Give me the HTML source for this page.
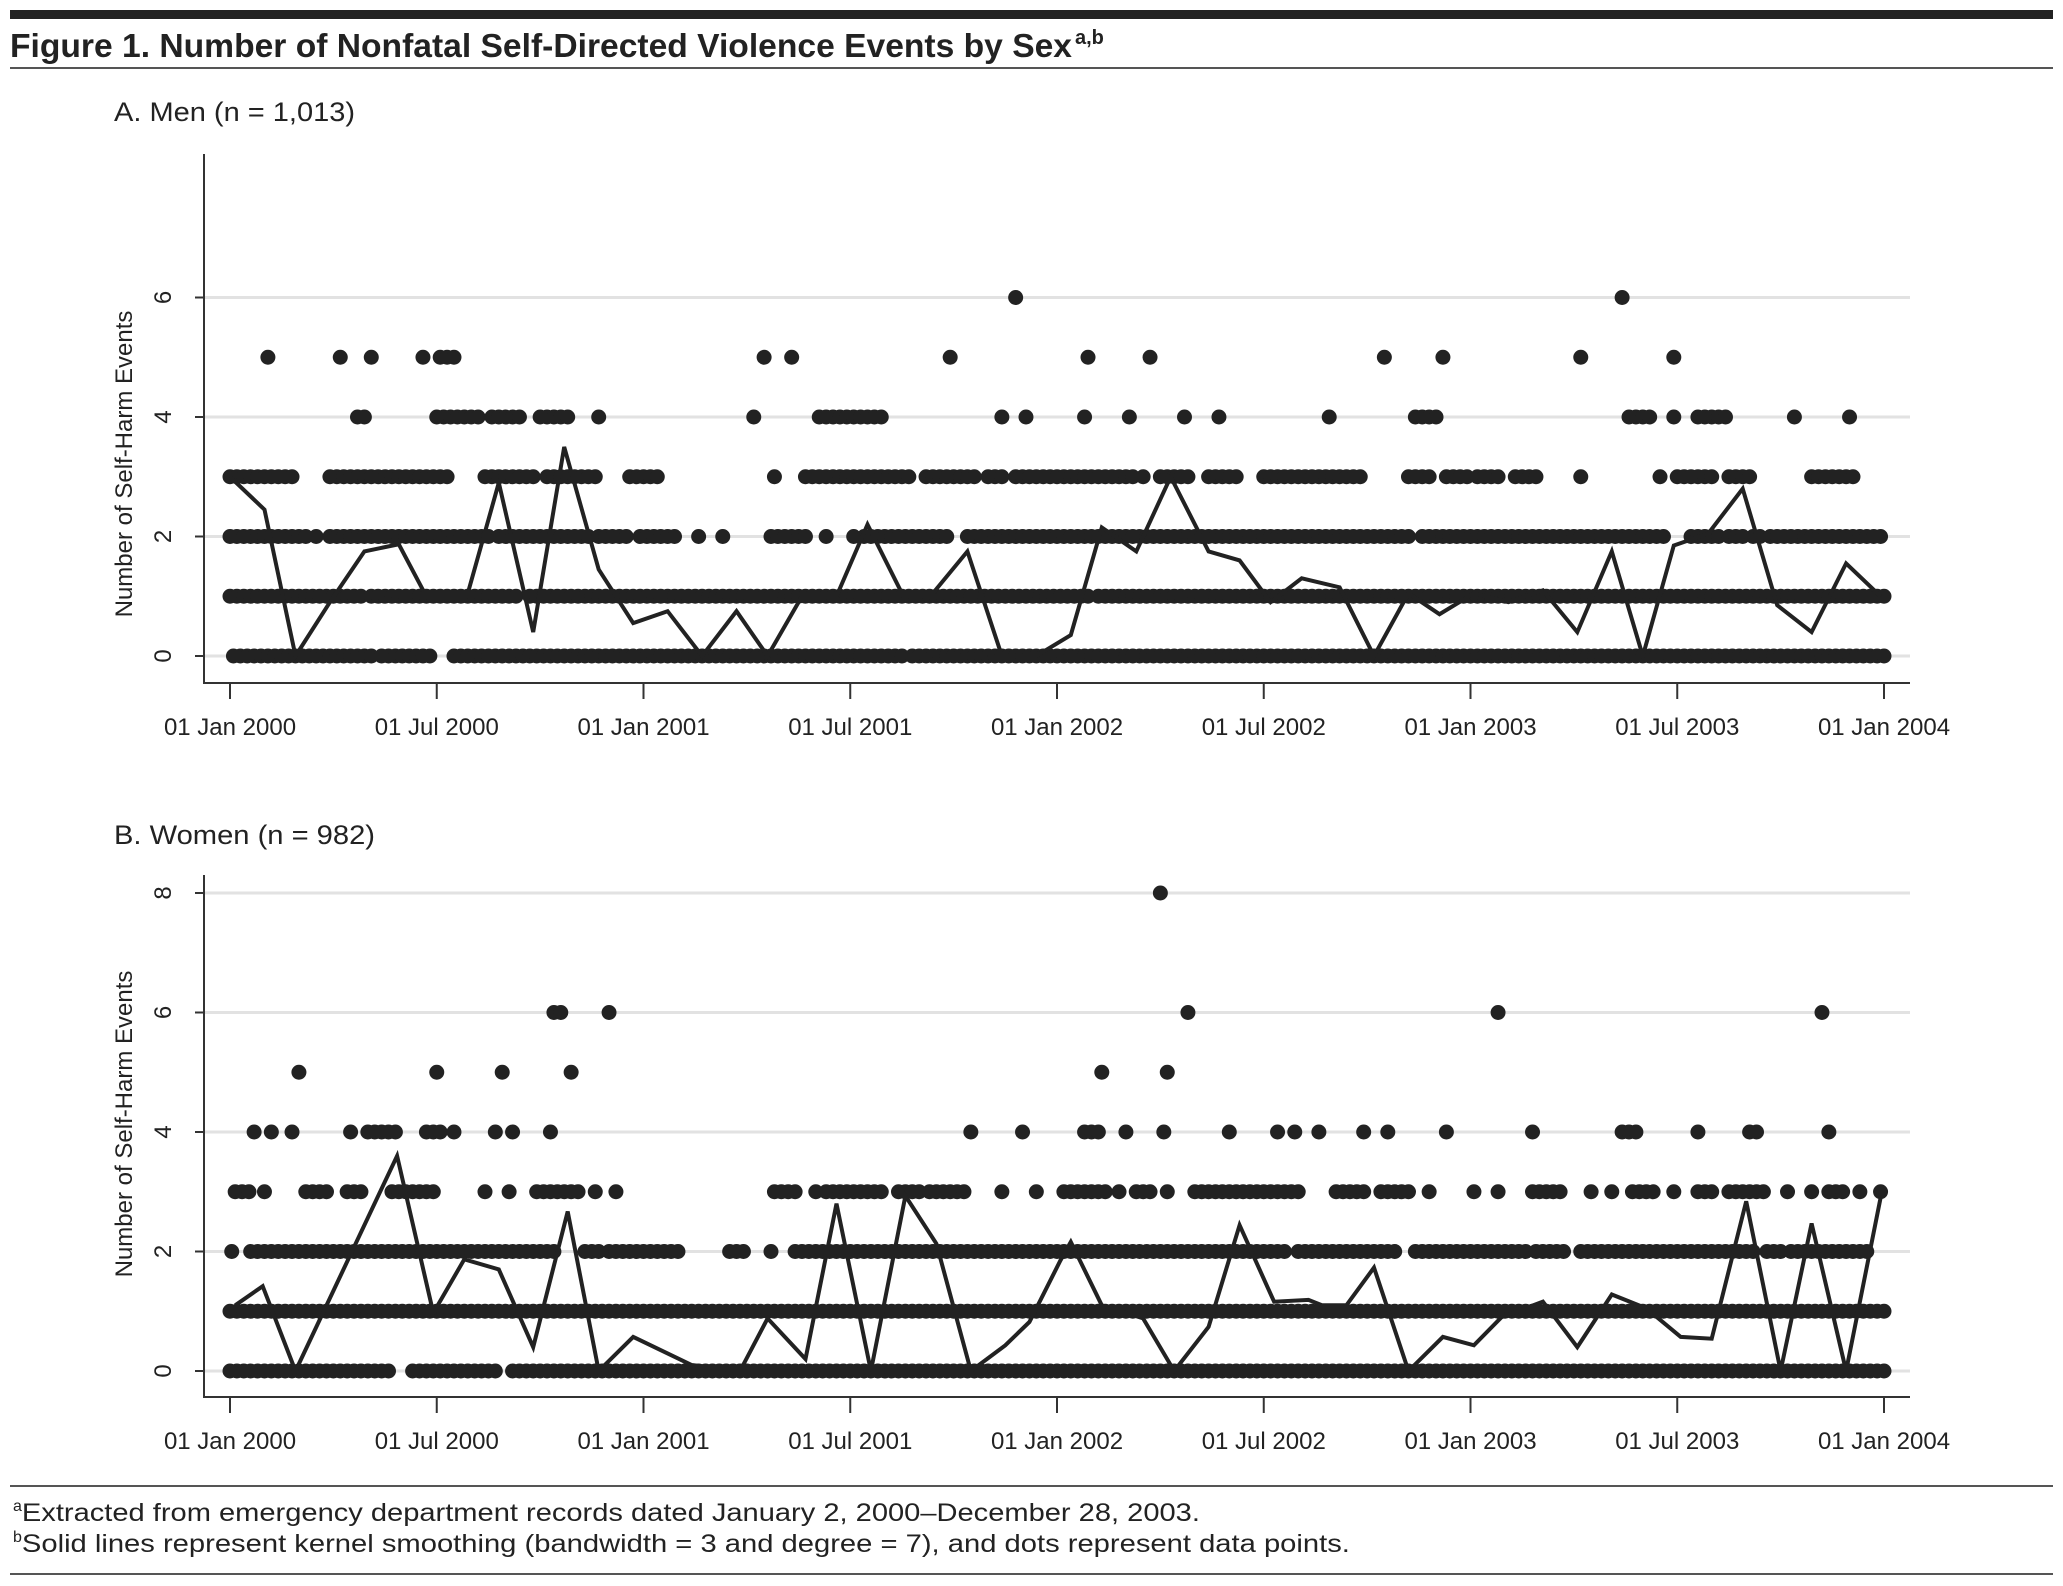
<!DOCTYPE html>
<html><head><meta charset="utf-8"><style>
html,body{margin:0;padding:0;background:#fff;}
svg{display:block;font-family:"Liberation Sans",sans-serif;}
</style></head><body>
<svg id="fig" width="2063" height="1586" viewBox="0 0 2063 1586" xmlns="http://www.w3.org/2000/svg">
<rect x="10" y="10" width="2043" height="9" fill="#222"/>
<text x="10" y="57" font-size="33" font-weight="bold" fill="#222" textLength="1062" lengthAdjust="spacingAndGlyphs">Figure 1. Number of Nonfatal Self-Directed Violence Events by Sex</text>
<text x="1075" y="44" font-size="20" font-weight="bold" fill="#222">a,b</text>
<rect x="10" y="67" width="2043" height="2" fill="#555"/>
<text x="114" y="121" font-size="27" fill="#222" textLength="241" lengthAdjust="spacingAndGlyphs">A. Men (n = 1,013)</text>
<text x="114" y="844" font-size="27" fill="#222" textLength="261" lengthAdjust="spacingAndGlyphs">B. Women (n = 982)</text>
<rect x="10" y="1485" width="2043" height="2" fill="#555"/>
<text x="13" y="1521" font-size="25" fill="#222"><tspan font-size="16" dy="-10">a</tspan><tspan dy="10" textLength="1178" lengthAdjust="spacingAndGlyphs">Extracted from emergency department records dated January 2, 2000–December 28, 2003.</tspan></text>
<text x="13" y="1552" font-size="25" fill="#222"><tspan font-size="16" dy="-10">b</tspan><tspan dy="10" textLength="1328" lengthAdjust="spacingAndGlyphs">Solid lines represent kernel smoothing (bandwidth = 3 and degree = 7), and dots represent data points.</tspan></text>
<rect x="10" y="1573" width="2043" height="2" fill="#555"/>
<g id="panelA"></g>
<g id="panelB"></g>
</svg>
<script>
// x in months since 01 Jan 2000; runs [start,end] at each count level
const tickLabels = ["01 Jan 2000","01 Jul 2000","01 Jan 2001","01 Jul 2001","01 Jan 2002","01 Jul 2002","01 Jan 2003","01 Jul 2003","01 Jan 2004"];
const tickMonths = [0,6,12,18,24,30,36,42,48];
const menYTicks = [0,2,4,6];
const womenYTicks = [0,2,4,6,8];

const menL0 = [[0.1,4.2],[4.4,5.9],[6.5,16.7],[16.9,19.5],[19.8,48]];
const menL1 = [[0,3.9],[4.1,8.4],[8.7,25.0],[25.2,48]];
const menL2 = [[0,2.2],[2.5,2.5],[2.9,7.6],[7.8,9.4],[9.6,10.4],[10.7,11.6],[11.9,13.0],[13.6,13.6],[14.3,14.3],[15.7,16.7],[17.3,17.3],[18.1,18.1],[18.4,20.8],[21.4,24.2],[24.4,29.8],[30.0,31.4],[31.6,34.2],[34.6,41.7],[42.4,43.2],[43.5,44.0],[44.2,44.5],[44.7,47.9]];
const menL3 = [[0,1.8],[2.9,6.3],[7.4,8.8],[9.2,10.7],[11.6,12.5],[15.8,15.8],[16.7,19.8],[20.2,21.4],[21.6,21.6],[22.0,22.5],[22.8,26.2],[26.5,26.5],[27.0,27.8],[28.4,29.2],[30.0,32.8],[34.2,34.9],[35.3,36.0],[36.2,36.9],[37.3,38.0],[39.2,39.2],[41.5,41.5],[42.0,43.0],[43.5,44.1],[45.9,47.2]];
const menL4 = [[3.7,4.0],[6.0,7.3],[7.6,8.4],[9.0,9.9],[10.7,10.7],[15.2,15.2],[17.1,18.9],[22.4,22.4],[23.1,23.1],[24.8,24.8],[26.1,26.1],[27.7,27.7],[28.7,28.7],[31.9,31.9],[34.4,35.0],[40.6,41.3],[41.9,41.9],[42.6,43.5],[45.4,45.4],[47.0,47.0]];
const menL5 = [[1.1,1.1],[3.2,3.2],[4.1,4.1],[5.6,5.6],[6.1,6.5],[15.5,15.5],[16.3,16.3],[20.9,20.9],[24.9,24.9],[26.7,26.7],[33.5,33.5],[35.2,35.2],[39.2,39.2],[41.9,41.9]];
const menL6 = [[22.8,22.8],[40.4,40.4]];
const menLineMonths = [0,1.0,1.9,2.9,3.9,4.9,5.65,6.9,7.8,8.8,9.7,10.7,11.7,12.7,13.7,14.7,15.6,16.6,17.6,18.5,19.5,20.4,21.4,22.4,23.4,24.4,25.3,26.3,27.3,28.4,29.3,30.2,31.1,32.2,33.2,34.2,35.1,36.1,37.1,38.1,39.1,40.1,41.0,41.9,42.9,43.9,44.9,45.9,46.9,47.9];
const menLineValues = [3,2.45,0,0.9,1.75,1.87,1.05,1.05,2.9,0.4,3.5,1.45,0.55,0.75,0,0.75,0,1,1,2.2,1.05,1.05,1.75,0,0,0.35,2.15,1.75,3.0,1.75,1.6,0.9,1.3,1.15,0,1.05,0.7,1.05,0.9,1.1,0.4,1.75,0,1.85,2.05,2.8,0.85,0.4,1.55,1.0];

const womenL0 = [[0,4.6],[5.3,7.7],[8.2,48]];
const womenL1 = [[0,48]];
const womenL2 = [[0.05,0.05],[0.6,9.4],[10.3,10.7],[11.0,13.1],[14.5,15.0],[15.7,15.7],[16.4,27.6],[27.8,30.6],[31.0,33.8],[34.4,36.0],[36.2,37.7],[37.9,38.8],[39.2,44.3],[44.6,45.1],[45.3,47.6]];
const womenL3 = [[0.15,0.6],[1.0,1.0],[2.2,2.9],[3.4,3.9],[4.7,6.0],[7.4,7.4],[8.1,8.1],[8.9,10.2],[10.6,10.6],[11.2,11.2],[15.8,16.4],[17.0,17.0],[17.3,19.0],[19.4,20.0],[20.3,21.4],[22.4,22.4],[23.4,23.4],[24.2,24.6],[24.8,25.5],[25.8,25.8],[26.3,26.7],[27.2,27.2],[28.0,31.0],[32.1,33.0],[33.4,34.2],[34.8,34.8],[36.1,36.1],[36.8,36.8],[37.8,38.6],[39.5,39.5],[40.1,40.1],[40.7,41.4],[41.9,41.9],[42.6,43.1],[43.5,44.6],[45.2,45.2],[45.9,45.9],[46.4,46.9],[47.3,47.3],[47.9,47.9]];
const womenL4 = [[0.7,0.7],[1.2,1.2],[1.8,1.8],[3.5,3.5],[4.0,4.9],[5.7,6.1],[6.5,6.5],[7.7,7.7],[8.2,8.2],[9.3,9.3],[21.5,21.5],[23.0,23.0],[24.8,25.2],[26.0,26.0],[27.1,27.1],[29.0,29.0],[30.4,30.4],[30.9,30.9],[31.6,31.6],[32.9,32.9],[33.6,33.6],[35.3,35.3],[37.8,37.8],[40.4,40.8],[42.6,42.6],[44.1,44.3],[46.4,46.4]];
const womenL5 = [[2.0,2.0],[6.0,6.0],[7.9,7.9],[9.9,9.9],[25.3,25.3],[27.2,27.2]];
const womenL6 = [[9.4,9.6],[11.0,11.0],[27.8,27.8],[36.8,36.8],[46.2,46.2]];
const womenL8 = [[27.0,27.0]];
const womenLineMonths = [0.15,0.95,1.9,4.85,5.9,6.8,7.8,8.8,9.8,10.7,11.7,13.4,14.8,15.6,16.7,17.6,18.6,19.6,20.5,21.5,22.5,23.2,24.1,24.4,25.3,26.5,27.4,28.4,29.3,30.3,31.3,31.7,32.4,33.2,34.2,35.2,36.1,36.9,38.1,39.1,40.1,41.1,42.1,43.0,44.0,45.0,45.9,46.9,47.9];
const womenLineValues = [1.1,1.42,0,3.6,0.97,1.87,1.7,0.4,2.67,0,0.57,0.1,0,0.88,0.2,2.8,0,2.93,2.13,0,0.43,0.82,1.85,2.16,1.1,0.88,0,0.74,2.44,1.16,1.19,1.1,1.1,1.73,0,0.57,0.43,0.9,1.16,0.4,1.28,1.05,0.57,0.54,2.84,0,2.47,0,2.9];

const NS = "http://www.w3.org/2000/svg";
const X0 = 230, XW = 1654, PL = 204, PR = 1910;
function xScale(m){ return X0 + m / 48 * XW; }
function mk(tag, attrs, parent){ const e = document.createElementNS(NS, tag); for (const k in attrs) e.setAttribute(k, attrs[k]); parent.appendChild(e); return e; }

function drawPanel(g, cfg){
  const y = v => cfg.y0 - v * 59.75;
  // gridlines
  cfg.yTicks.forEach(v => {
    const gl = mk('line', {x1: PL, x2: PR, y1: y(v), y2: y(v), stroke: '#e2e2e2', 'stroke-width': 3}, g);
    
    
  });
  // axes
  const ya = mk('line', {x1: PL, x2: PL, y1: cfg.top, y2: cfg.axisY + 1, stroke: '#333', 'stroke-width': 2}, g);
  
  
  const xa = mk('line', {x1: PL, x2: PR, y1: cfg.axisY, y2: cfg.axisY, stroke: '#333', 'stroke-width': 2}, g);
  
  
  cfg.yTicks.forEach(v => {
    const t = mk('line', {x1: PL - 9, x2: PL, y1: y(v), y2: y(v), stroke: '#333', 'stroke-width': 2}, g);
    
    
    const lb = mk('text', {x: 0, y: 0, 'font-size': 24, fill: '#222', 'text-anchor': 'middle', transform: `translate(171,${y(v)}) rotate(-90)`}, g);
    
    
    lb.textContent = String(v);
  });
  tickMonths.forEach((m, i) => {
    const t = mk('line', {x1: xScale(m), x2: xScale(m), y1: cfg.axisY, y2: cfg.axisY + 16, stroke: '#333', 'stroke-width': 2}, g);
    
    
    const lb = mk('text', {x: xScale(m), y: cfg.axisY + 52, 'font-size': 24, fill: '#222', 'text-anchor': 'middle'}, g);
    
    
    lb.textContent = tickLabels[i];
  });
  const yt = mk('text', {x: 0, y: 0, 'font-size': 24, fill: '#222', 'text-anchor': 'middle', transform: `translate(132,${cfg.labelY}) rotate(-90)`}, g);
  
  
  yt.textContent = 'Number of Self-Harm Events';
  // dots
  const dg = mk('g', {fill: '#222'}, g);
  
  
  cfg.levels.forEach(([lvl, runs]) => {
    runs.forEach(([a, b]) => {
      for (let m = a; m <= b + 1e-6; m += 0.2) {
        const c = mk('ellipse', {cx: xScale(m), cy: y(lvl), rx: 7.5, ry: 7.5}, dg);
        
        
      }
    });
  });
  // smoothing line
  const pts = cfg.lineM.map((m, i) => xScale(m).toFixed(1) + ',' + y(cfg.lineV[i]).toFixed(1)).join(' ');
  const pl = mk('polyline', {points: pts, fill: 'none', stroke: '#222', 'stroke-width': 4, 'stroke-linejoin': 'miter'}, g);
  
  
}

drawPanel(document.getElementById('panelA'), {
  y0: 656, top: 154, axisY: 683, labelY: 464, yTicks: menYTicks,
  levels: [[0, menL0], [1, menL1], [2, menL2], [3, menL3], [4, menL4], [5, menL5], [6, menL6]],
  lineM: menLineMonths, lineV: menLineValues
});
drawPanel(document.getElementById('panelB'), {
  y0: 1371, top: 875, axisY: 1397, labelY: 1124, yTicks: womenYTicks,
  levels: [[0, womenL0], [1, womenL1], [2, womenL2], [3, womenL3], [4, womenL4], [5, womenL5], [6, womenL6], [8, womenL8]],
  lineM: womenLineMonths, lineV: womenLineValues
});
</script>
</body></html>
